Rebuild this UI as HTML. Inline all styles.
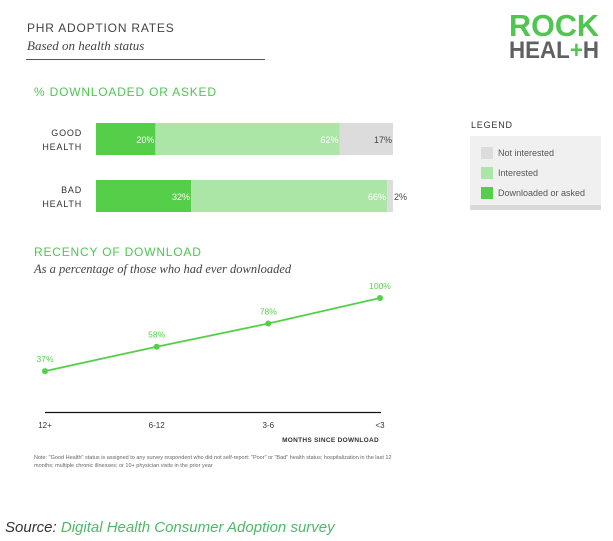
<!DOCTYPE html>
<html><head><meta charset="utf-8"><style>
html,body{margin:0;padding:0;background:#fff;}
svg{display:block;font-family:"Liberation Sans",sans-serif;}
</style></head><body>
<svg id="chart" width="613" height="541" viewBox="0 0 613 541">
  <text x="27" y="32" font-size="12" fill="#444" letter-spacing="0.8">PHR ADOPTION RATES</text>
  <text x="27" y="50" font-size="13" font-style="italic" font-family="Liberation Serif,serif" fill="#444">Based on health status</text>
  <line x1="26" y1="59.5" x2="265" y2="59.5" stroke="#555" stroke-width="1"/>
  <g>
    <text x="509" y="36" font-size="31" font-weight="bold" fill="#50c552" textLength="90" lengthAdjust="spacingAndGlyphs">ROCK</text>
    <text x="509" y="58" font-size="24" font-weight="bold" fill="#5f6062" textLength="90" lengthAdjust="spacingAndGlyphs">HEAL<tspan fill="#50c552">+</tspan>H</text>
  </g>
  <text x="34" y="96" font-size="12" fill="#50c552" letter-spacing="0.8">% DOWNLOADED OR ASKED</text>
  <g id="bars"></g>
  <g>
    <text x="471" y="128" font-size="9" fill="#333" letter-spacing="0.8">LEGEND</text>
    <rect x="470" y="136" width="131" height="74" fill="#f0f0f0"/>
    <rect x="470" y="205" width="131" height="5" fill="#d9d9d9"/>
    <rect x="481" y="147" width="12" height="12" fill="#dcdcdc"/>
    <text x="498" y="156" font-size="9" fill="#555">Not interested</text>
    <rect x="481" y="167" width="12" height="12" fill="#abe6a6"/>
    <text x="498" y="176" font-size="9" fill="#555">Interested</text>
    <rect x="481" y="187" width="12" height="12" fill="#55cf4a"/>
    <text x="498" y="196" font-size="9" fill="#555">Downloaded or asked</text>
  </g>
  <text x="34" y="256" font-size="12" fill="#50c552" letter-spacing="0.8">RECENCY OF DOWNLOAD</text>
  <text x="34" y="273" font-size="12.5" font-style="italic" font-family="Liberation Serif,serif" fill="#444">As a percentage of those who had ever downloaded</text>
  <g id="line"></g>
  <line x1="45" y1="412.5" x2="381" y2="412.5" stroke="#111" stroke-width="1.2"/>
  <text x="379" y="442" font-size="6.5" fill="#333" text-anchor="end" font-weight="bold" letter-spacing="0.3">MONTHS SINCE DOWNLOAD</text>
  <text x="34" y="459" font-size="5.5" fill="#666">Note: "Good Health" status is assigned to any survey respondent who did not self-report: "Poor" or "Bad" health status; hospitalization in the last 12</text>
  <text x="34" y="467" font-size="5.5" fill="#666">months; multiple chronic illnesses; or 10+ physician visits in the prior year</text>
  <text x="5" y="532" font-size="15" font-style="italic" fill="#333">Source: <tspan fill="#4fb86a">Digital Health Consumer Adoption survey</tspan></text>
</svg>
<script>
const barCategories = ["GOOD|HEALTH", "BAD|HEALTH"];
const downloaded = [20, 32];
const interested = [62, 66];
const notInterested = [17, 2];
const lineCategories = ["12+", "6-12", "3-6", "<3"];
const lineValues = [37, 58, 78, 100];

const NS = "http://www.w3.org/2000/svg";
function mk(tag, attrs, parent, txt) {
  const e = document.createElementNS(NS, tag);
  for (const k in attrs) e.setAttribute(k, attrs[k]);
  if (txt !== undefined) e.textContent = txt;
  parent.appendChild(e);
  return e;
}
const bx = v => 96 + v * 2.97;
const barG = document.getElementById("bars");
const rowY = [123, 180];
barCategories.forEach((c, i) => {
  const y = rowY[i], h = 32;
  const parts = c.split("|");
  parts.forEach((p, j) => {
    const t = mk("text", {x: 82, y: y + 13 + j * 14, "font-size": 9, fill: "#333", "text-anchor": "end", "letter-spacing": "0.8"}, barG, p);
    
    
  });
  const a = downloaded[i], b = interested[i], n = notInterested[i];
  const end = Math.max(a + b + n, 100);
  const r1 = mk("rect", {x: bx(0), y: y, width: bx(a) - bx(0), height: h, fill: "#55cf4a"}, barG);
  
  
  const r2 = mk("rect", {x: bx(a), y: y, width: bx(a + b) - bx(a), height: h, fill: "#abe6a6"}, barG);
  
  
  const r3 = mk("rect", {x: bx(a + b), y: y, width: bx(end) - bx(a + b), height: h, fill: "#dcdcdc"}, barG);
  
  
  const l1 = mk("text", {x: bx(a) - 1, y: y + 20, "font-size": 9, fill: "#fff", "text-anchor": "end"}, barG, a + "%");
  
  
  const l2 = mk("text", {x: bx(a + b) - 1, y: y + 20, "font-size": 9, fill: "#fff", "text-anchor": "end"}, barG, b + "%");
  
  
  const small = n < 6;
  const l3 = mk("text", {x: small ? bx(end) + 1 : bx(end) - 1, y: y + 20, "font-size": 9, fill: "#444", "text-anchor": small ? "start" : "end"}, barG, n + "%");
  
  
});
const lx = i => 45 + i * (335 / (lineCategories.length - 1));
const ly = v => 414 - v * 1.16;
const lineG = document.getElementById("line");
const pts = lineValues.map((v, i) => lx(i) + "," + ly(v)).join(" ");
const pl = mk("polyline", {points: pts, fill: "none", stroke: "#55cf4a", "stroke-width": 1.8}, lineG);


lineValues.forEach((v, i) => {
  const c = mk("circle", {cx: lx(i), cy: ly(v), r: 3, fill: "#55cf4a"}, lineG);
  
  
  const t = mk("text", {x: lx(i), y: ly(v) - 9, "font-size": 8.5, fill: "#55cf4a", "text-anchor": "middle"}, lineG, v + "%");
  
  
  const tk = mk("text", {x: lx(i), y: 428, "font-size": 8, fill: "#333", "text-anchor": "middle"}, lineG, lineCategories[i]);
  
  
});
</script>
</body></html>
